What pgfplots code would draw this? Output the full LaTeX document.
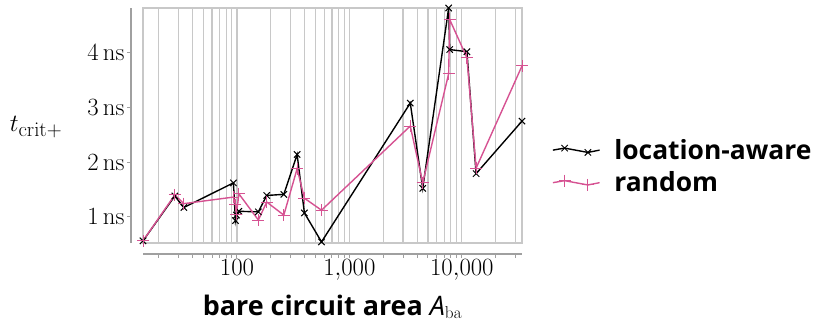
\documentclass[border=0pt]{standalone}
\usepackage[no-math]{fontspec}
\setmainfont{Open Sans}
\usepackage{pgfplots}
\pgfplotsset{compat=1.18}
\definecolor{pinkc}{RGB}{214,82,146}
\definecolor{gridc}{RGB}{200,200,200}
\definecolor{axc}{RGB}{160,160,160}
\pgfplotstableread{
x y
14.6 0.56
28 1.38
33.7 1.17
93 1.62
97 0.93
99 1.03
104 1.10
155 1.09
184 1.39
261 1.41
343 2.14
398 1.07
565 0.54
3480 3.08
4490 1.52
7640 4.82
7800 4.06
11100 4.02
13400 1.79
34300 2.75
}\locaware
\pgfplotstableread{
x y
14.6 0.56
28 1.40
33.7 1.24
93 1.36
97 1.22
99 1.05
104 1.42
155 0.94
184 1.27
261 1.03
343 1.88
398 1.34
565 1.12
3480 2.66
4490 1.62
7640 3.62
7800 4.61
11100 3.91
13400 1.89
34300 3.76
}\randomt
\begin{document}
\begin{tikzpicture}
\begin{axis}[
  scale only axis, width=379bp, height=235bp,
  xmode=log, log basis x=10,
  xmin=14.6, xmax=34300, ymin=0.52, ymax=4.82,
  clip=false,
  axis lines=left,
  axis x line shift=11bp, axis y line shift=12bp,
  axis line style={-, draw=axc, line width=1.2bp},
  tick align=outside,
  major tick length=4bp, minor tick length=4bp,
  tick style={draw=axc, line width=1bp},
  xmajorgrids, xminorgrids,
  major grid style={gridc, line width=1.1bp},
  minor grid style={gridc, line width=1.1bp},
  log ticks with fixed point,
  ytick={1,2,3,4},
  yticklabel={$\pgfmathprintnumber{\tick}\,\mathrm{ns}$},
  ticklabel style={font=\fontsize{26}{30}\selectfont},
  xticklabel style={yshift=2bp},
  yticklabel style={xshift=1bp},
  xlabel={\bfseries bare circuit area {\mdseries\itshape A}$_{\mathrm{ba}}$},
  ylabel={$t_{\mathrm{crit}+}$},
  xlabel style={at={(rel axis cs:0.5,0)}, anchor=base, yshift=-72bp, font=\fontsize{27}{32}\selectfont},
  ylabel style={at={(rel axis cs:0,0.5)}, anchor=center, rotate=-90, xshift=-107bp, yshift=-2bp, font=\fontsize{29}{34}\selectfont},
  legend style={at={(rel axis cs:1,0.326)}, anchor=west, xshift=30bp, draw=none, fill=none,
    inner sep=0pt, font=\bfseries\fontsize{26.5}{31}\selectfont, row sep=9bp, column sep=13bp,
    nodes={inner sep=1bp}},
  legend cell align=left,
  legend image code/.code={
    \draw[#1, mark indices={2,3}] plot coordinates {(0bp,0bp) (11.7bp,2bp) (35bp,-2.3bp) (46.7bp,0bp)};
  },
]
\draw[gridc, line width=1.1bp] (rel axis cs:0,0) rectangle (rel axis cs:1,1);
\addplot[black, line width=1.4bp, mark=x, mark size=4.5bp, mark options={line width=1bp}] table[x=x,y=y] {\locaware};
\addlegendentry{location-aware}
\addplot[pinkc, line width=1.4bp, mark=+, mark size=6bp, mark options={line width=1bp}] table[x=x,y=y] {\randomt};
\addlegendentry{random}
\end{axis}
\path (current axis.south west) ++(-143bp,-81bp) (current axis.north east) ++(295bp,8bp);
\end{tikzpicture}
\end{document}
